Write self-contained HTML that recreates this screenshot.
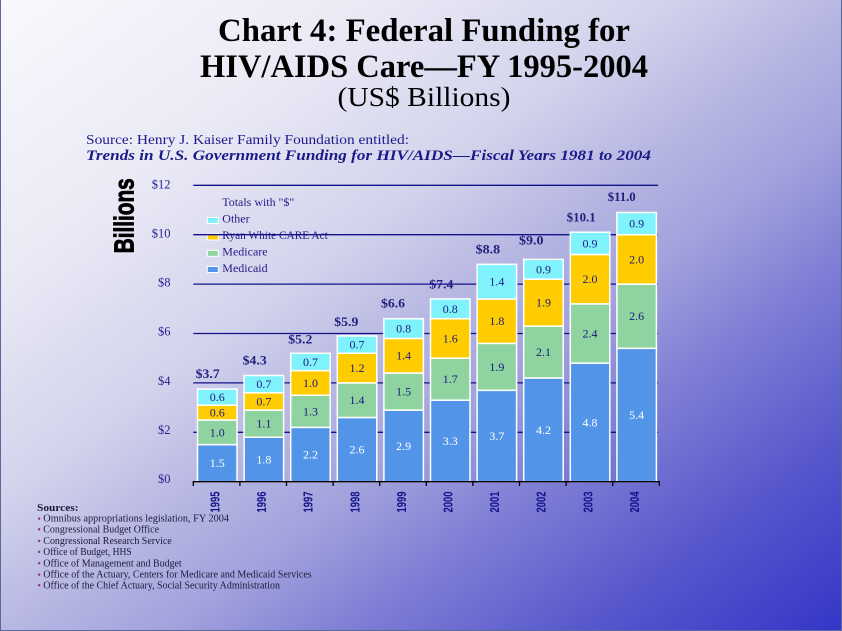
<!DOCTYPE html>
<html><head><meta charset="utf-8"><style>
html,body{margin:0;padding:0;background:#fff;}
svg{display:block;}
text{font-family:"Liberation Serif",serif;}
text.sans{font-family:"Liberation Sans",sans-serif;}
</style></head><body>
<svg width="842" height="631" viewBox="0 0 842 631" xmlns="http://www.w3.org/2000/svg">
<defs>
<linearGradient id="bg" x1="0" y1="0" x2="1" y2="1">
<stop offset="0" stop-color="#f8f8fd"/>
<stop offset="0.22" stop-color="#eaeaf6"/>
<stop offset="0.40" stop-color="#d2d2ec"/>
<stop offset="0.50" stop-color="#b8b8e3"/>
<stop offset="0.60" stop-color="#a2a2dd"/>
<stop offset="0.70" stop-color="#8080d6"/>
<stop offset="0.85" stop-color="#5656cc"/>
<stop offset="1" stop-color="#3535c8"/>
</linearGradient>
</defs>
<rect x="0" y="0" width="842" height="631" fill="url(#bg)"/>
<line x1="0.5" y1="0" x2="0.5" y2="631" stroke="#5a6a9a" stroke-width="1"/>
<line x1="841.5" y1="0" x2="841.5" y2="631" stroke="#5a6a9a" stroke-width="1"/>
<line x1="0" y1="630.5" x2="842" y2="630.5" stroke="#5a6a9a" stroke-width="1"/>

<!-- Title -->
<text x="424" y="41" text-anchor="middle" font-size="33" font-weight="bold" fill="#000" textLength="412" lengthAdjust="spacingAndGlyphs">Chart 4: Federal Funding for</text>
<text x="424" y="77" text-anchor="middle" font-size="33" font-weight="bold" fill="#000" textLength="448" lengthAdjust="spacingAndGlyphs">HIV/AIDS Care—FY 1995-2004</text>
<text x="424" y="106" text-anchor="middle" font-size="27" fill="#000" textLength="173" lengthAdjust="spacingAndGlyphs">(US$ Billions)</text>

<text x="86" y="144" font-size="14" fill="#1e1a8c" textLength="323" lengthAdjust="spacingAndGlyphs">Source: Henry J. Kaiser Family Foundation entitled:</text>
<text x="86" y="160" font-size="14.5" font-weight="bold" font-style="italic" fill="#1a1a88" textLength="565" lengthAdjust="spacingAndGlyphs">Trends in U.S. Government Funding for HIV/AIDS—Fiscal Years 1981 to 2004</text>

<!-- Billions -->
<text class="sans" transform="translate(133.5,215.8) rotate(-90)" text-anchor="middle" font-size="28" font-weight="bold" fill="#000" stroke="#000" stroke-width="0.9" textLength="75" lengthAdjust="spacingAndGlyphs">Billions</text>

<!-- Y labels -->
<g font-size="12.5" fill="#2a1e8e" text-anchor="end">
<text x="170.5" y="188.5">$12</text>
<text x="170.5" y="237.5">$10</text>
<text x="170.5" y="286.5">$8</text>
<text x="170.5" y="335.5">$6</text>
<text x="170.5" y="385">$4</text>
<text x="170.5" y="434">$2</text>
<text x="170.5" y="483">$0</text>
</g>

<!-- Legend -->
<g font-size="12" fill="#221a88">
<text x="222.3" y="206" textLength="72" lengthAdjust="spacingAndGlyphs">Totals with "$"</text>
<text x="222.3" y="222.5">Other</text>
<text x="222.3" y="239" textLength="105.5" lengthAdjust="spacingAndGlyphs">Ryan White CARE Act</text>
<text x="222.3" y="255.5">Medicare</text>
<text x="222.3" y="272">Medicaid</text>
</g>
<g stroke="#fff" stroke-width="1">
<rect x="207.3" y="217.5" width="11" height="6" fill="#80f2fc"/>
<rect x="207.3" y="234" width="11" height="6" fill="#ffcc00"/>
<rect x="207.3" y="250.3" width="11" height="6" fill="#8fd3a0"/>
<rect x="207.3" y="266.5" width="11" height="6" fill="#5294e8"/>
</g>

<!-- Total labels -->
<g font-size="13" font-weight="bold" fill="#24207e">
<text x="195.7" y="378" textLength="24" lengthAdjust="spacingAndGlyphs">$3.7</text>
<text x="242.7" y="364.5" textLength="24" lengthAdjust="spacingAndGlyphs">$4.3</text>
<text x="288.3" y="343.5" textLength="24" lengthAdjust="spacingAndGlyphs">$5.2</text>
<text x="334.3" y="326" textLength="24" lengthAdjust="spacingAndGlyphs">$5.9</text>
<text x="381" y="307.5" textLength="24" lengthAdjust="spacingAndGlyphs">$6.6</text>
<text x="429.3" y="288.5" textLength="24" lengthAdjust="spacingAndGlyphs">$7.4</text>
<text x="475.7" y="253.5" textLength="24.5" lengthAdjust="spacingAndGlyphs">$8.8</text>
<text x="519" y="244.5" textLength="24.5" lengthAdjust="spacingAndGlyphs">$9.0</text>
<text x="566.7" y="221.5" textLength="29" lengthAdjust="spacingAndGlyphs">$10.1</text>
<text x="607.7" y="201" textLength="28" lengthAdjust="spacingAndGlyphs">$11.0</text>
</g>

<!-- Gridlines -->
<g stroke="#12128a" stroke-width="1.3">
<line x1="193.3" y1="185.3" x2="658" y2="185.3"/>
<line x1="193.3" y1="234.7" x2="658" y2="234.7"/>
<line x1="193.3" y1="284.1" x2="658" y2="284.1"/>
<line x1="193.3" y1="333.5" x2="658" y2="333.5"/>
<line x1="193.3" y1="382.9" x2="658" y2="382.9"/>
<line x1="193.3" y1="432.3" x2="658" y2="432.3"/>
</g>

<!-- Bars -->
<g stroke="#fff" stroke-width="1.5">
<rect x="197.5" y="444.65" width="39.5" height="37.05" fill="#5294e8"/>
<rect x="197.5" y="419.95" width="39.5" height="24.7" fill="#8fd3a0"/>
<rect x="197.5" y="405.13" width="39.5" height="14.82" fill="#ffcc00"/>
<rect x="197.5" y="389.08" width="39.5" height="16.05" fill="#80f2fc"/>
<rect x="244.1" y="437.24" width="39.5" height="44.46" fill="#5294e8"/>
<rect x="244.1" y="410.07" width="39.5" height="27.17" fill="#8fd3a0"/>
<rect x="244.1" y="392.78" width="39.5" height="17.29" fill="#ffcc00"/>
<rect x="244.1" y="375.49" width="39.5" height="17.29" fill="#80f2fc"/>
<rect x="290.7" y="427.36" width="39.5" height="54.34" fill="#5294e8"/>
<rect x="290.7" y="395.25" width="39.5" height="32.11" fill="#8fd3a0"/>
<rect x="290.7" y="370.55" width="39.5" height="24.7" fill="#ffcc00"/>
<rect x="290.7" y="353.26" width="39.5" height="17.29" fill="#80f2fc"/>
<rect x="337.3" y="417.48" width="39.5" height="64.22" fill="#5294e8"/>
<rect x="337.3" y="382.9" width="39.5" height="34.58" fill="#8fd3a0"/>
<rect x="337.3" y="353.26" width="39.5" height="29.64" fill="#ffcc00"/>
<rect x="337.3" y="335.97" width="39.5" height="17.29" fill="#80f2fc"/>
<rect x="383.9" y="410.07" width="39.5" height="71.63" fill="#5294e8"/>
<rect x="383.9" y="373.02" width="39.5" height="37.05" fill="#8fd3a0"/>
<rect x="383.9" y="338.44" width="39.5" height="34.58" fill="#ffcc00"/>
<rect x="383.9" y="318.68" width="39.5" height="19.76" fill="#80f2fc"/>
<rect x="430.5" y="400.19" width="39.5" height="81.51" fill="#5294e8"/>
<rect x="430.5" y="358.2" width="39.5" height="41.99" fill="#8fd3a0"/>
<rect x="430.5" y="318.68" width="39.5" height="39.52" fill="#ffcc00"/>
<rect x="430.5" y="298.92" width="39.5" height="19.76" fill="#80f2fc"/>
<rect x="477.1" y="390.31" width="39.5" height="91.39" fill="#5294e8"/>
<rect x="477.1" y="343.38" width="39.5" height="46.93" fill="#8fd3a0"/>
<rect x="477.1" y="298.92" width="39.5" height="44.46" fill="#ffcc00"/>
<rect x="477.1" y="264.34" width="39.5" height="34.58" fill="#80f2fc"/>
<rect x="523.7" y="377.96" width="39.5" height="103.74" fill="#5294e8"/>
<rect x="523.7" y="326.09" width="39.5" height="51.87" fill="#8fd3a0"/>
<rect x="523.7" y="279.16" width="39.5" height="46.93" fill="#ffcc00"/>
<rect x="523.7" y="259.4" width="39.5" height="19.76" fill="#80f2fc"/>
<rect x="570.3" y="363.14" width="39.5" height="118.56" fill="#5294e8"/>
<rect x="570.3" y="303.86" width="39.5" height="59.28" fill="#8fd3a0"/>
<rect x="570.3" y="254.46" width="39.5" height="49.4" fill="#ffcc00"/>
<rect x="570.3" y="232.23" width="39.5" height="22.23" fill="#80f2fc"/>
<rect x="616.9" y="348.32" width="39.5" height="133.38" fill="#5294e8"/>
<rect x="616.9" y="284.1" width="39.5" height="64.22" fill="#8fd3a0"/>
<rect x="616.9" y="234.7" width="39.5" height="49.4" fill="#ffcc00"/>
<rect x="616.9" y="212.47" width="39.5" height="22.23" fill="#80f2fc"/>
</g>

<!-- Segment labels -->
<g font-size="12" text-anchor="middle" fill="#1a1a80">
<text x="217.25" y="436.3">1.0</text><text x="217.25" y="416.5">0.6</text><text x="217.25" y="401.1">0.6</text>
<text x="263.85" y="427.7">1.1</text><text x="263.85" y="405.4">0.7</text><text x="263.85" y="388.1">0.7</text>
<text x="310.45" y="415.3">1.3</text><text x="310.45" y="386.9">1.0</text><text x="310.45" y="365.9">0.7</text>
<text x="357.05" y="404.2">1.4</text><text x="357.05" y="372.1">1.2</text><text x="357.05" y="348.6">0.7</text>
<text x="403.65" y="395.5">1.5</text><text x="403.65" y="359.7">1.4</text><text x="403.65" y="332.6">0.8</text>
<text x="450.25" y="383.2">1.7</text><text x="450.25" y="342.4">1.6</text><text x="450.25" y="312.8">0.8</text>
<text x="496.85" y="370.8">1.9</text><text x="496.85" y="325.2">1.8</text><text x="496.85" y="285.6">1.4</text>
<text x="543.45" y="356">2.1</text><text x="543.45" y="306.6">1.9</text><text x="543.45" y="273.3">0.9</text>
<text x="590.05" y="337.5">2.4</text><text x="590.05" y="283.2">2.0</text><text x="590.05" y="247.3">0.9</text>
<text x="636.65" y="320.2">2.6</text><text x="636.65" y="263.4">2.0</text><text x="636.65" y="227.6">0.9</text>
</g>
<g font-size="12" text-anchor="middle" fill="#ffffff">
<text x="217.25" y="467.2">1.5</text>
<text x="263.85" y="463.5">1.8</text>
<text x="310.45" y="458.5">2.2</text>
<text x="357.05" y="453.6">2.6</text>
<text x="403.65" y="449.9">2.9</text>
<text x="450.25" y="444.9">3.3</text>
<text x="496.85" y="440">3.7</text>
<text x="543.45" y="433.8">4.2</text>
<text x="590.05" y="426.4">4.8</text>
<text x="636.65" y="419">5.4</text>
</g>

<!-- X axis -->
<g stroke="#000" stroke-width="1.3">
<line x1="193.3" y1="481.7" x2="659.3" y2="481.7"/>
<line x1="193.3" y1="481" x2="193.3" y2="486"/>
<line x1="239.9" y1="481" x2="239.9" y2="486"/>
<line x1="286.5" y1="481" x2="286.5" y2="486"/>
<line x1="333.1" y1="481" x2="333.1" y2="486"/>
<line x1="379.7" y1="481" x2="379.7" y2="486"/>
<line x1="426.3" y1="481" x2="426.3" y2="486"/>
<line x1="472.9" y1="481" x2="472.9" y2="486"/>
<line x1="519.5" y1="481" x2="519.5" y2="486"/>
<line x1="566.1" y1="481" x2="566.1" y2="486"/>
<line x1="612.7" y1="481" x2="612.7" y2="486"/>
<line x1="659.3" y1="481" x2="659.3" y2="486"/>
</g>
<g font-size="13" font-weight="bold" fill="#12128a" text-anchor="middle">
<text class="sans" transform="translate(219.5,502) rotate(-90)" textLength="21" lengthAdjust="spacingAndGlyphs">1995</text>
<text class="sans" transform="translate(266.1,502) rotate(-90)" textLength="21" lengthAdjust="spacingAndGlyphs">1996</text>
<text class="sans" transform="translate(312.7,502) rotate(-90)" textLength="21" lengthAdjust="spacingAndGlyphs">1997</text>
<text class="sans" transform="translate(359.3,502) rotate(-90)" textLength="21" lengthAdjust="spacingAndGlyphs">1998</text>
<text class="sans" transform="translate(405.9,502) rotate(-90)" textLength="21" lengthAdjust="spacingAndGlyphs">1999</text>
<text class="sans" transform="translate(452.5,502) rotate(-90)" textLength="21" lengthAdjust="spacingAndGlyphs">2000</text>
<text class="sans" transform="translate(499.1,502) rotate(-90)" textLength="21" lengthAdjust="spacingAndGlyphs">2001</text>
<text class="sans" transform="translate(545.7,502) rotate(-90)" textLength="21" lengthAdjust="spacingAndGlyphs">2002</text>
<text class="sans" transform="translate(592.3,502) rotate(-90)" textLength="21" lengthAdjust="spacingAndGlyphs">2003</text>
<text class="sans" transform="translate(638.9,502) rotate(-90)" textLength="21" lengthAdjust="spacingAndGlyphs">2004</text>
</g>

<!-- Sources -->
<text x="37" y="511" font-size="11" font-weight="bold" fill="#1a1a3a" textLength="41.5" lengthAdjust="spacingAndGlyphs">Sources:</text>
<g fill="#8a3a9a">
<rect x="38" y="517.5" width="2.2" height="2.2"/>
<rect x="38" y="528.2" width="2.2" height="2.2"/>
<rect x="38" y="539.8" width="2.2" height="2.2"/>
<rect x="38" y="550.8" width="2.2" height="2.2"/>
<rect x="38" y="562.1" width="2.2" height="2.2"/>
<rect x="38" y="573.5" width="2.2" height="2.2"/>
<rect x="38" y="584.1" width="2.2" height="2.2"/>
</g>
<g font-size="10" fill="#1a1a3a">
<text x="43.3" y="521.7" textLength="185.7" lengthAdjust="spacingAndGlyphs">Omnibus appropriations legislation, FY 2004</text>
<text x="43.3" y="532.3" textLength="115.7" lengthAdjust="spacingAndGlyphs">Congressional Budget Office</text>
<text x="43.3" y="544" textLength="128.4" lengthAdjust="spacingAndGlyphs">Congressional Research Service</text>
<text x="43.3" y="555" textLength="88.4" lengthAdjust="spacingAndGlyphs">Office of Budget, HHS</text>
<text x="43.3" y="566.3" textLength="138.4" lengthAdjust="spacingAndGlyphs">Office of Management and Budget</text>
<text x="43.3" y="577.7" textLength="268.4" lengthAdjust="spacingAndGlyphs">Office of the Actuary, Centers for Medicare and Medicaid Services</text>
<text x="43.3" y="588.3" textLength="236.7" lengthAdjust="spacingAndGlyphs">Office of the Chief Actuary, Social Security Administration</text>
</g>
</svg>
</body></html>
